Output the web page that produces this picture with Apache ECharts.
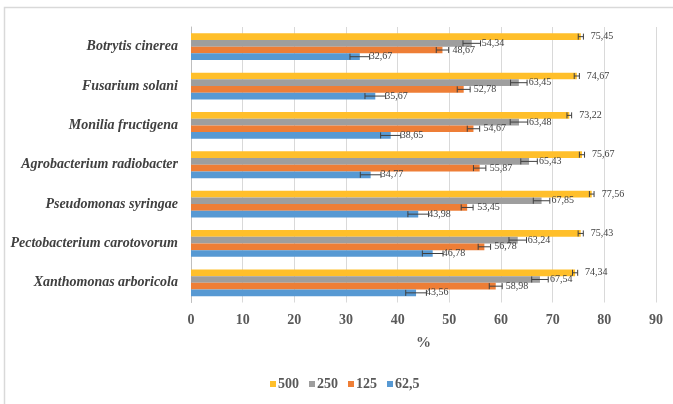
<!DOCTYPE html>
<html>
<head>
<meta charset="utf-8">
<script src="https://cdn.jsdelivr.net/npm/echarts@6/dist/echarts.min.js"></script>
<style>
  html, body { margin: 0; padding: 0; background: #ffffff; }
  #chart { width: 673px; height: 404px; }
</style>
</head>
<body>
<div id="chart"></div>
<script>
// Pathogens, listed bottom to top along the category axis
var categories = [
  'Xanthomonas arboricola',
  'Pectobacterium carotovorum',
  'Pseudomonas syringae',
  'Agrobacterium radiobacter',
  'Monilia fructigena',
  'Fusarium solani',
  'Botrytis cinerea'
];

// Concentrations (legend names)
var seriesNames = ['500', '250', '125', '62,5'];
var seriesColors = ['#FFBF2A', '#9E9E9E', '#EE7E36', '#5799D3'];

// Inhibition, % (same order as categories)
var values500 = [74.34, 75.43, 77.56, 75.67, 73.22, 74.67, 75.45];
var values250 = [67.54, 63.24, 67.85, 65.43, 63.48, 63.45, 54.34];
var values125 = [58.98, 56.78, 53.45, 55.87, 54.67, 52.78, 48.67];
var values62 = [43.56, 46.78, 43.98, 34.77, 38.65, 35.67, 32.67];

// Standard deviations
var err500 = [0.5, 0.5, 0.45, 0.5, 0.45, 0.5, 0.5];
var err250 = [1.6, 1.7, 1.6, 1.6, 1.7, 1.6, 1.7];
var err125 = [1.25, 1.2, 1.15, 1.2, 1.2, 1.25, 1.2];
var err62 = [2.0, 2.0, 2.0, 2.0, 1.95, 2.0, 1.9];

// Axis ticks
var xMin = 0, xMax = 90, xStep = 10;

var allValues = [values500, values250, values125, values62];
var allErrors = [err500, err250, err125, err62];

var CATEGORY_GAP = 0.32;
var SERIF = '"Liberation Serif", "Times New Roman", serif';

function fmt(v) {
  return v.toFixed(2).replace('.', ',');
}

var chart = echarts.init(document.getElementById('chart'), null, { renderer: 'canvas' });

var series = [];
seriesNames.forEach(function (name, k) {
  series.push({
    name: name,
    type: 'bar',
    data: allValues[k],
    barGap: '0%',
    barCategoryGap: (CATEGORY_GAP * 100) + '%',
    itemStyle: { color: seriesColors[k] },
    label: {
      show: true,
      position: 'right',
      distance: 10,
      formatter: function (p) { return fmt(p.value); },
      fontFamily: SERIF,
      fontSize: 10,
      color: '#404040'
    },
    emphasis: { disabled: true },
    z: 2
  });
});

// Error bars: one item per (series, category), drawn at the bar's slot in the band
var errData = [];
seriesNames.forEach(function (name, k) {
  categories.forEach(function (c, i) {
    errData.push([allValues[k][i], i, allErrors[k][i], k]);
  });
});

series.push({
  type: 'custom',
  name: 'err',
  data: errData,
  encode: { x: 0, y: 1 },
  z: 5,
  silent: true,
  renderItem: function (params, api) {
    var v = api.value(0), cat = api.value(1), e = api.value(2), k = api.value(3);
    var band = api.size([0, 1])[1];
    var n = seriesNames.length;
    var used = band * (1 - CATEGORY_GAP);
    var bw = used / n;
    var center = api.coord([v, cat]);
    // the first series sits at the top of each group
    var y = center[1] - used / 2 + (k + 0.5) * bw;
    var x1 = api.coord([v - e, cat])[0];
    var x2 = api.coord([v + e, cat])[0];
    var h = bw * 0.45;
    var style = { stroke: '#404040', lineWidth: 1, fill: null };
    return {
      type: 'group',
      children: [
        { type: 'line', shape: { x1: x1, y1: y, x2: x2, y2: y }, style: style },
        { type: 'line', shape: { x1: x1, y1: y - h, x2: x1, y2: y + h }, style: style },
        { type: 'line', shape: { x1: x2, y1: y - h, x2: x2, y2: y + h }, style: style }
      ]
    };
  }
});

chart.setOption({
  animation: false,
  backgroundColor: '#ffffff',
  graphic: [{
    type: 'rect',
    shape: { x: 4.5, y: 7.5, width: 700, height: 420 },
    style: { fill: null, stroke: '#D9D9D9', lineWidth: 1.5 },
    silent: true,
    z: -10
  }],
  grid: { left: 191, right: 17, top: 27, bottom: 101.5 },
  legend: {
    data: seriesNames,
    left: 270,
    top: 377,
    padding: 0,
    itemWidth: 6,
    itemHeight: 6,
    itemGap: 10,
    icon: 'rect',
    textStyle: {
      fontFamily: SERIF,
      fontSize: 14,
      fontWeight: 'bold',
      color: '#595959',
      padding: [0, 0, 0, -3]
    }
  },
  xAxis: {
    type: 'value',
    min: xMin,
    max: xMax,
    interval: xStep,
    name: '%',
    nameLocation: 'middle',
    nameGap: 33,
    nameTextStyle: {
      fontFamily: SERIF,
      fontSize: 15,
      fontWeight: 'bold',
      color: '#595959'
    },
    axisLine: { show: false },
    axisTick: { show: false },
    axisLabel: {
      margin: 11,
      fontFamily: SERIF,
      fontSize: 14,
      fontWeight: 'bold',
      color: '#595959',
      formatter: function (v) { return String(v); }
    },
    splitLine: { show: true, lineStyle: { color: '#D9D9D9', width: 1 } }
  },
  yAxis: {
    type: 'category',
    data: categories,
    axisLine: { show: true, lineStyle: { color: '#BFBFBF', width: 1 } },
    axisTick: { show: false },
    axisLabel: {
      margin: 13,
      fontFamily: SERIF,
      fontSize: 14,
      fontWeight: 'bold',
      fontStyle: 'italic',
      color: '#404040'
    },
    splitLine: { show: false }
  },
  series: series
});
</script>
</body>
</html>
